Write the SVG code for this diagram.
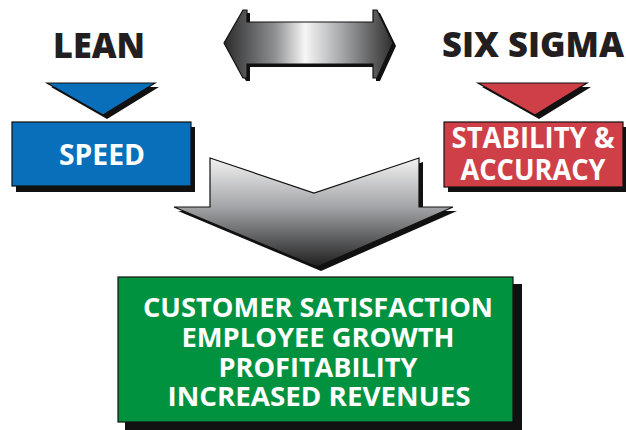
<svg xmlns="http://www.w3.org/2000/svg" width="626" height="430" viewBox="0 0 626 430">
<defs>
<linearGradient id="hgrad" x1="224" y1="0" x2="393" y2="0" gradientUnits="userSpaceOnUse">
<stop offset="0" stop-color="#2b2b2b"/>
<stop offset="0.3" stop-color="#8e8f92"/>
<stop offset="0.48" stop-color="#f6f6f6"/>
<stop offset="0.7" stop-color="#a5a6a9"/>
<stop offset="1" stop-color="#2e2e2e"/>
</linearGradient>
<linearGradient id="vgrad" x1="0" y1="158" x2="0" y2="267" gradientUnits="userSpaceOnUse">
<stop offset="0" stop-color="#f2f2f2"/>
<stop offset="0.45" stop-color="#a3a4a7"/>
<stop offset="1" stop-color="#1e1e1e"/>
</linearGradient>
</defs>
<style>
.shadow{fill:#111}
.outline{stroke:#111;stroke-width:1.2;stroke-linejoin:miter}
.title{font-family:"Open Sans","Liberation Sans",Arial,sans-serif;font-weight:800;fill:#231f20;text-anchor:middle}
.label{font-family:"Open Sans","Liberation Sans",Arial,sans-serif;font-weight:700;fill:#fff;text-anchor:middle}
</style>
<rect width="626" height="430" fill="#fff"/>

<g id="connectors">
<g id="double-arrow">
<path class="shadow" d="M227,46 L246,13 L250,13 L250,25 L376,25 L376,13 L380,13 L396,46 L380,81 L376,81 L376,67 L250,67 L250,81 L246,81 Z"/>
<path class="outline" fill="url(#hgrad)" d="M224,43 L243,10 L247,10 L247,22 L373,22 L373,10 L377,10 L393,43 L377,78 L373,78 L373,64 L247,64 L247,78 L243,78 Z"/>
</g>
<g id="down-arrow">
<path class="shadow" d="M214,162 L318,197 L423,162 L423,211 L457,211 L321,271 L178,211 L214,211 Z"/>
<path class="outline" fill="url(#vgrad)" d="M210,158 L314,193 L419,158 L419,207 L453,207 L317,267 L174,207 L210,207 Z"/>
</g>
<g id="lean-triangle">
<path class="shadow" d="M51,87 L159,87 L107,119 Z"/>
<path class="outline" fill="#0a6fba" d="M47,83 L155,83 L103,115 Z"/>
</g>
<g id="sigma-triangle">
<path class="shadow" d="M482,87 L591,87 L539,119 Z"/>
<path class="outline" fill="#cf3f48" d="M478,83 L587,83 L535,115 Z"/>
</g>
</g>

<g id="lean">
<text class="title" x="99" y="58" font-size="36" textLength="92" lengthAdjust="spacingAndGlyphs">LEAN</text>
</g>

<g id="six-sigma">
<text class="title" x="533" y="57" font-size="35" textLength="182" lengthAdjust="spacingAndGlyphs">SIX SIGMA</text>
</g>

<g id="speed">
<rect class="shadow" x="16" y="127" width="179" height="65"/>
<rect class="outline" fill="#0a6fba" x="12" y="122" width="179" height="64"/>
<text class="label" x="102" y="165" font-size="29" textLength="86" lengthAdjust="spacingAndGlyphs">SPEED</text>
</g>

<g id="stability">
<rect class="shadow" x="448" y="127" width="179" height="65"/>
<rect class="outline" fill="#cf3f48" x="444" y="122" width="179" height="65"/>
<text class="label" x="533" y="148" font-size="28" textLength="163" lengthAdjust="spacingAndGlyphs">STABILITY &amp;</text>
<text class="label" x="533" y="180" font-size="28" textLength="145" lengthAdjust="spacingAndGlyphs">ACCURACY</text>
</g>

<g id="outcomes">
<rect class="shadow" x="125" y="284" width="397" height="146"/>
<rect class="outline" fill="#00923f" x="118" y="277" width="395" height="145"/>
<text class="label" x="318" y="317" font-size="27" textLength="350" lengthAdjust="spacingAndGlyphs">CUSTOMER SATISFACTION</text>
<text class="label" x="318" y="347" font-size="27" textLength="273" lengthAdjust="spacingAndGlyphs">EMPLOYEE GROWTH</text>
<text class="label" x="318" y="377" font-size="27" textLength="199" lengthAdjust="spacingAndGlyphs">PROFITABILITY</text>
<text class="label" x="319" y="406" font-size="27" textLength="303" lengthAdjust="spacingAndGlyphs">INCREASED REVENUES</text>
</g>
</svg>
